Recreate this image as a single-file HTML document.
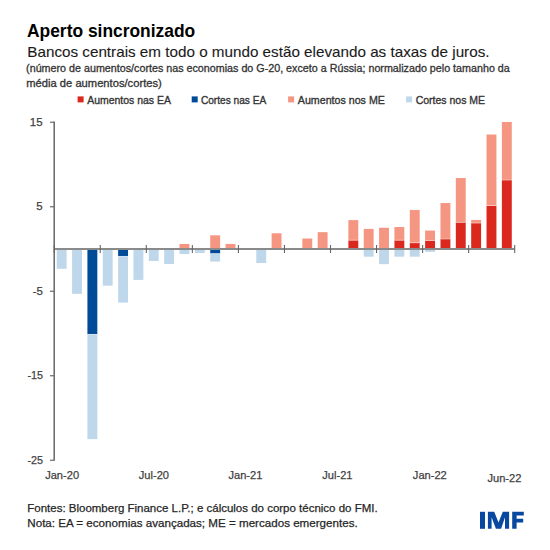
<!DOCTYPE html>
<html><head><meta charset="utf-8">
<style>
html,body{margin:0;padding:0;background:#fff;width:550px;height:550px;overflow:hidden}
svg{display:block}
text{font-family:"Liberation Sans",sans-serif}
.t{font-weight:bold;font-size:18.6px;fill:#000}
.st{font-size:14.8px;fill:#1a1a1a;stroke:#1a1a1a;stroke-width:0.1px}
.nt{font-size:10.6px;fill:#333;stroke:#333;stroke-width:0.3px}
.lg{font-size:11.4px;fill:#333;stroke:#333;stroke-width:0.35px}
.ax{font-size:11.1px;fill:#3f3f3f;stroke:#3f3f3f;stroke-width:0.25px}
.ay{font-size:11.5px;fill:#3f3f3f;stroke:#3f3f3f;stroke-width:0.25px}
.ft{font-size:11.4px;fill:#262626;stroke:#262626;stroke-width:0.25px}
</style></head>
<body>
<svg width="550" height="550" viewBox="0 0 550 550">
<rect width="550" height="550" fill="#fff"/>
<text x="27" y="36.9" class="t" textLength="168.2" lengthAdjust="spacingAndGlyphs">Aperto sincronizado</text>
<text x="27.3" y="57.3" class="st" textLength="462.2" lengthAdjust="spacingAndGlyphs">Bancos centrais em todo o mundo estão elevando as taxas de juros.</text>
<text x="26.1" y="72.2" class="nt" textLength="483.7" lengthAdjust="spacingAndGlyphs">(número de aumentos/cortes nas economias do G-20, exceto a Rússia; normalizado pelo tamanho da</text>
<text x="26.3" y="86.5" class="nt" textLength="135.5" lengthAdjust="spacingAndGlyphs">média de aumentos/cortes)</text>
<rect x="77.6" y="96.4" width="6" height="6" fill="#db281e"/>
<text x="87.2" y="103.6" class="lg" textLength="83.8" lengthAdjust="spacingAndGlyphs">Aumentos nas EA</text>
<rect x="191.7" y="96.4" width="6" height="6" fill="#004b98"/>
<text x="200.9" y="103.6" class="lg" textLength="65.4" lengthAdjust="spacingAndGlyphs">Cortes nas EA</text>
<rect x="288.1" y="96.4" width="6" height="6" fill="#f59682"/>
<text x="297.8" y="103.6" class="lg" textLength="87.1" lengthAdjust="spacingAndGlyphs">Aumentos nos ME</text>
<rect x="406.1" y="96.4" width="6" height="6" fill="#bfd7eb"/>
<text x="415.7" y="103.6" class="lg" textLength="69.4" lengthAdjust="spacingAndGlyphs">Cortes nos ME</text>
<rect x="56.73" y="249.00" width="9.90" height="19.77" fill="#bfd7eb"/>
<rect x="72.07" y="249.00" width="9.90" height="44.87" fill="#bfd7eb"/>
<rect x="87.42" y="249.00" width="9.90" height="85.34" fill="#004b98"/>
<rect x="87.42" y="334.34" width="9.90" height="104.78" fill="#bfd7eb"/>
<rect x="102.77" y="249.00" width="9.90" height="36.67" fill="#bfd7eb"/>
<rect x="118.12" y="249.00" width="9.90" height="7.35" fill="#004b98"/>
<rect x="118.12" y="256.35" width="9.90" height="46.22" fill="#bfd7eb"/>
<rect x="133.47" y="249.00" width="9.90" height="30.93" fill="#bfd7eb"/>
<rect x="148.82" y="249.00" width="9.90" height="12.00" fill="#bfd7eb"/>
<rect x="164.17" y="249.00" width="9.90" height="15.04" fill="#bfd7eb"/>
<rect x="179.53" y="243.93" width="9.90" height="5.07" fill="#f59682"/>
<rect x="179.53" y="249.00" width="9.90" height="5.07" fill="#bfd7eb"/>
<rect x="194.88" y="249.00" width="9.90" height="3.97" fill="#bfd7eb"/>
<rect x="210.22" y="235.31" width="9.90" height="13.69" fill="#f59682"/>
<rect x="210.22" y="249.00" width="9.90" height="4.65" fill="#004b98"/>
<rect x="210.22" y="253.65" width="9.90" height="7.94" fill="#bfd7eb"/>
<rect x="225.57" y="243.93" width="9.90" height="5.07" fill="#f59682"/>
<rect x="256.27" y="249.00" width="9.90" height="14.03" fill="#bfd7eb"/>
<rect x="271.62" y="233.28" width="9.90" height="15.72" fill="#f59682"/>
<rect x="302.33" y="238.52" width="9.90" height="10.48" fill="#f59682"/>
<rect x="317.68" y="232.18" width="9.90" height="16.82" fill="#f59682"/>
<rect x="348.38" y="240.21" width="9.90" height="8.79" fill="#db281e"/>
<rect x="348.38" y="220.10" width="9.90" height="20.11" fill="#f59682"/>
<rect x="363.73" y="228.89" width="9.90" height="20.11" fill="#f59682"/>
<rect x="363.73" y="249.00" width="9.90" height="7.69" fill="#bfd7eb"/>
<rect x="379.07" y="227.79" width="9.90" height="21.21" fill="#f59682"/>
<rect x="379.07" y="249.00" width="9.90" height="15.13" fill="#bfd7eb"/>
<rect x="394.43" y="240.21" width="9.90" height="8.79" fill="#db281e"/>
<rect x="394.43" y="227.03" width="9.90" height="13.18" fill="#f59682"/>
<rect x="394.43" y="249.00" width="9.90" height="7.69" fill="#bfd7eb"/>
<rect x="409.78" y="242.83" width="9.90" height="6.17" fill="#db281e"/>
<rect x="409.78" y="209.96" width="9.90" height="32.87" fill="#f59682"/>
<rect x="409.78" y="249.00" width="9.90" height="7.69" fill="#bfd7eb"/>
<rect x="425.12" y="240.47" width="9.90" height="8.53" fill="#db281e"/>
<rect x="425.12" y="230.58" width="9.90" height="9.89" fill="#f59682"/>
<rect x="425.12" y="249.00" width="9.90" height="2.87" fill="#bfd7eb"/>
<rect x="440.48" y="239.03" width="9.90" height="9.97" fill="#db281e"/>
<rect x="440.48" y="203.03" width="9.90" height="36.00" fill="#f59682"/>
<rect x="455.82" y="222.30" width="9.90" height="26.70" fill="#db281e"/>
<rect x="455.82" y="178.02" width="9.90" height="44.28" fill="#f59682"/>
<rect x="471.18" y="223.06" width="9.90" height="25.94" fill="#db281e"/>
<rect x="471.18" y="219.93" width="9.90" height="3.13" fill="#f59682"/>
<rect x="486.53" y="205.57" width="9.90" height="43.43" fill="#db281e"/>
<rect x="486.53" y="134.50" width="9.90" height="71.06" fill="#f59682"/>
<rect x="501.88" y="180.05" width="9.90" height="68.95" fill="#db281e"/>
<rect x="501.88" y="122.00" width="9.90" height="58.05" fill="#f59682"/>
<rect x="87.42" y="333.94" width="9.90" height="0.80" fill="#fff" fill-opacity="0.5"/>
<rect x="118.12" y="255.95" width="9.90" height="0.80" fill="#fff" fill-opacity="0.5"/>
<rect x="210.22" y="253.25" width="9.90" height="0.80" fill="#fff" fill-opacity="0.5"/>
<rect x="348.38" y="239.81" width="9.90" height="0.80" fill="#fff" fill-opacity="0.5"/>
<rect x="394.43" y="239.81" width="9.90" height="0.80" fill="#fff" fill-opacity="0.5"/>
<rect x="409.78" y="242.43" width="9.90" height="0.80" fill="#fff" fill-opacity="0.5"/>
<rect x="425.12" y="240.07" width="9.90" height="0.80" fill="#fff" fill-opacity="0.5"/>
<rect x="440.48" y="238.63" width="9.90" height="0.80" fill="#fff" fill-opacity="0.5"/>
<rect x="455.82" y="221.90" width="9.90" height="0.80" fill="#fff" fill-opacity="0.5"/>
<rect x="471.18" y="222.66" width="9.90" height="0.80" fill="#fff" fill-opacity="0.5"/>
<rect x="486.53" y="205.17" width="9.90" height="0.80" fill="#fff" fill-opacity="0.5"/>
<rect x="501.88" y="179.65" width="9.90" height="0.80" fill="#fff" fill-opacity="0.5"/>
<line x1="54.0" y1="249" x2="514.5" y2="249" stroke="#8a8a8a" stroke-width="2"/>
<line x1="54.20" y1="245" x2="54.20" y2="253" stroke="#666" stroke-width="1.1"/>
<line x1="100.25" y1="245" x2="100.25" y2="253" stroke="#666" stroke-width="1.1"/>
<line x1="146.30" y1="245" x2="146.30" y2="253" stroke="#666" stroke-width="1.1"/>
<line x1="192.35" y1="245" x2="192.35" y2="253" stroke="#666" stroke-width="1.1"/>
<line x1="238.40" y1="245" x2="238.40" y2="253" stroke="#666" stroke-width="1.1"/>
<line x1="284.45" y1="245" x2="284.45" y2="253" stroke="#666" stroke-width="1.1"/>
<line x1="330.50" y1="245" x2="330.50" y2="253" stroke="#666" stroke-width="1.1"/>
<line x1="376.55" y1="245" x2="376.55" y2="253" stroke="#666" stroke-width="1.1"/>
<line x1="422.60" y1="245" x2="422.60" y2="253" stroke="#666" stroke-width="1.1"/>
<line x1="468.65" y1="245" x2="468.65" y2="253" stroke="#666" stroke-width="1.1"/>
<line x1="514.70" y1="245" x2="514.70" y2="253" stroke="#666" stroke-width="1.1"/>
<line x1="54.2" y1="121.5" x2="54.2" y2="460.8" stroke="#666" stroke-width="1.5"/>
<line x1="50" y1="122.25" x2="54" y2="122.25" stroke="#6b6b6b" stroke-width="1.2"/>
<text x="42.6" y="125.95" text-anchor="end" class="ay">15</text>
<line x1="50" y1="206.75" x2="54" y2="206.75" stroke="#6b6b6b" stroke-width="1.2"/>
<text x="42.6" y="210.45" text-anchor="end" class="ay">5</text>
<line x1="50" y1="291.25" x2="54" y2="291.25" stroke="#6b6b6b" stroke-width="1.2"/>
<text x="43.0" y="294.95" text-anchor="end" class="ay">-5</text>
<line x1="50" y1="375.75" x2="54" y2="375.75" stroke="#6b6b6b" stroke-width="1.2"/>
<text x="43.0" y="379.45" text-anchor="end" class="ay" textLength="15.6" lengthAdjust="spacingAndGlyphs">-15</text>
<line x1="50" y1="460.25" x2="54" y2="460.25" stroke="#6b6b6b" stroke-width="1.2"/>
<text x="43.0" y="463.95" text-anchor="end" class="ay" textLength="15.6" lengthAdjust="spacingAndGlyphs">-25</text>
<text x="62.10" y="479.1" text-anchor="middle" class="ax">Jan-20</text>
<text x="153.90" y="479.1" text-anchor="middle" class="ax">Jul-20</text>
<text x="245.40" y="479.1" text-anchor="middle" class="ax">Jan-21</text>
<text x="337.40" y="479.3" text-anchor="middle" class="ax">Jul-21</text>
<text x="429.80" y="479.0" text-anchor="middle" class="ax">Jan-22</text>
<text x="504.40" y="481.8" text-anchor="middle" class="ax">Jun-22</text>
<text x="27.3" y="511.7" class="ft" textLength="350.3" lengthAdjust="spacingAndGlyphs">Fontes: Bloomberg Finance L.P.; e cálculos do corpo técnico do FMI.</text>
<text x="27.3" y="526.9" class="ft" textLength="330.4" lengthAdjust="spacingAndGlyphs">Nota: EA = economias avançadas; ME = mercados emergentes.</text>
<g fill="#0848a0">
<rect x="480" y="511.8" width="5" height="17"/>
<polygon points="487.9,511.8 494.2,511.8 498.5,522.6 502.8,511.8 509.1,511.8 509.1,528.8 505,528.8 505,517.2 501.1,528.8 495.9,528.8 491.6,517.2 491.6,528.8 487.9,528.8"/>
<polygon points="512.2,511.8 523.8,511.8 523.8,515.5 516.6,515.5 516.6,518.8 523.2,518.8 523.2,522.4 516.6,522.4 516.6,528.8 512.2,528.8"/>
</g>
</svg>
</body></html>
